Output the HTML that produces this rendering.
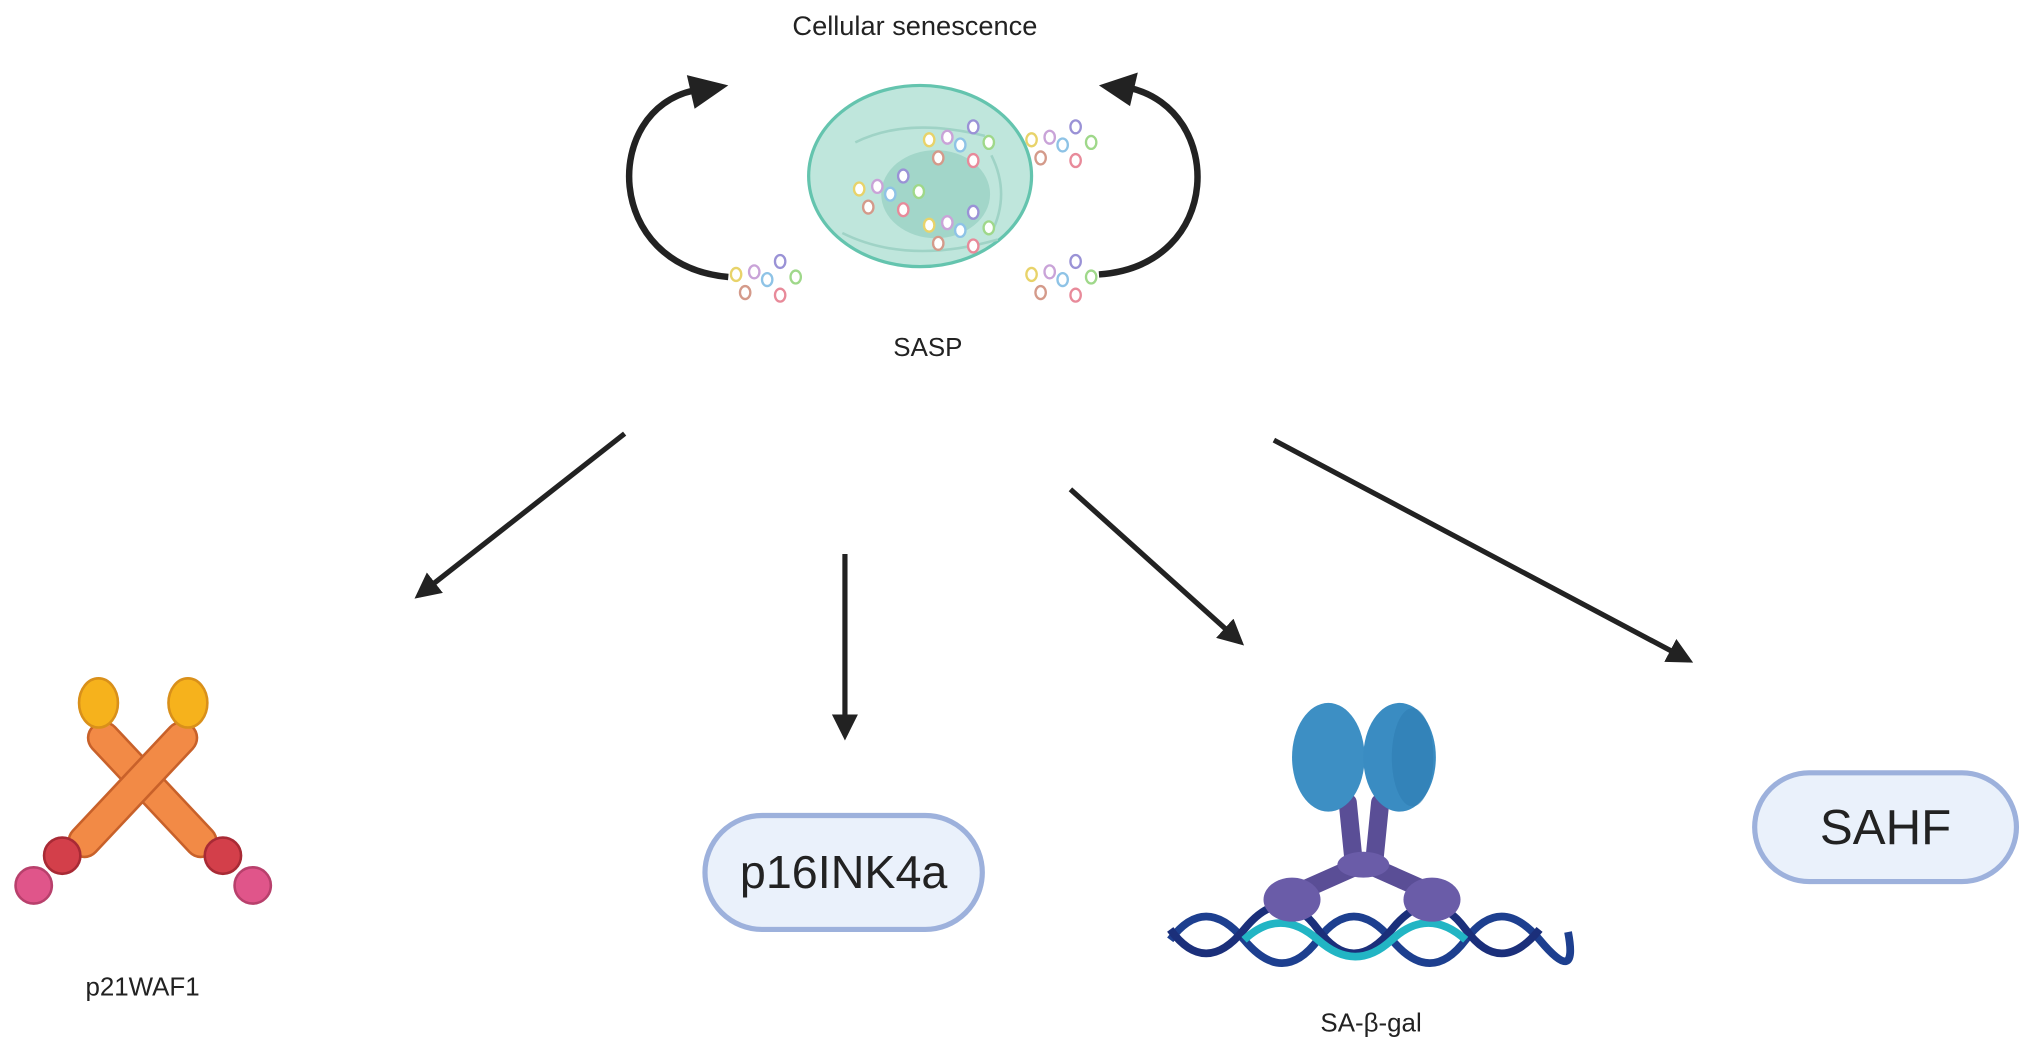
<!DOCTYPE html>
<html><head><meta charset="utf-8"><style>
html,body{margin:0;padding:0;background:#fff;}
svg{display:block;}
text{font-family:"Liberation Sans",Arial,sans-serif;fill:#222;}
</style></head><body>
<svg width="2032" height="1055" viewBox="0 0 1568 815" preserveAspectRatio="none" xmlns="http://www.w3.org/2000/svg">
<defs>
<marker id="ah" viewBox="0 0 10 10" refX="8" refY="5" markerWidth="5" markerHeight="5" orient="auto" markerUnits="strokeWidth">
<path d="M0,0 L10,5 L0,10 Z" fill="#222"/></marker>
<g id="v" fill="#fff" stroke-width="1.8"><ellipse cx="0" cy="0" rx="4" ry="5" stroke="#e8d36a"/><ellipse cx="14" cy="-2" rx="4" ry="5" stroke="#c9a3d8"/><ellipse cx="24" cy="4" rx="4" ry="5" stroke="#8ec3e6"/><ellipse cx="34" cy="-10" rx="4" ry="5" stroke="#9a92d6"/><ellipse cx="46" cy="2" rx="4" ry="5" stroke="#9fd88a"/><ellipse cx="7" cy="14" rx="4" ry="5" stroke="#d49a8a"/><ellipse cx="34" cy="16" rx="4" ry="5" stroke="#e88a9a"/></g>
</defs>
<text x="706" y="27" font-size="21" text-anchor="middle">Cellular senescence</text>
<text x="716" y="275" font-size="20" text-anchor="middle">SASP</text>

<ellipse cx="710" cy="136" rx="86" ry="70" fill="#bfe6dc" stroke="#64c4ae" stroke-width="2.5"/>
<ellipse cx="722" cy="150" rx="42" ry="34" fill="#a2d6c9"/>
<path d="M660,110 Q700,90 760,105 M650,180 Q700,205 770,185 M765,120 Q780,150 765,180" stroke="#9fd3c6" stroke-width="2" fill="none"/>

<path d="M562,214 C465,205 465,85 535,70" stroke="#222" stroke-width="5" fill="none"/>
<path d="M530,58 L562,66 L536,84 Z" fill="#222"/>
<path d="M848,212 C945,205 945,85 872,68" stroke="#222" stroke-width="5" fill="none"/>
<path d="M878,56 L848,66 L872,82 Z" fill="#222"/>

<use href="#v" x="568" y="212"/>
<use href="#v" x="796" y="212"/>
<use href="#v" x="796" y="108"/>
<use href="#v" x="717" y="108"/>
<use href="#v" x="663" y="146"/>
<use href="#v" x="717" y="174"/>

<g stroke="#222" stroke-width="4" fill="none" marker-end="url(#ah)">
<line x1="482" y1="335" x2="323" y2="460"/>
<line x1="652" y1="428" x2="652" y2="568"/>
<line x1="826" y1="378" x2="957" y2="496"/>
<line x1="983" y1="340" x2="1303" y2="510"/>
</g>

<g>
<line x1="80" y1="570" x2="155" y2="650" stroke="#c8612a" stroke-width="26" stroke-linecap="round"/>
<line x1="80" y1="570" x2="155" y2="650" stroke="#f28a46" stroke-width="22" stroke-linecap="round"/>
<line x1="140" y1="570" x2="65" y2="650" stroke="#c8612a" stroke-width="26" stroke-linecap="round"/>
<line x1="140" y1="570" x2="65" y2="650" stroke="#f28a46" stroke-width="22" stroke-linecap="round"/>
<ellipse cx="76" cy="543" rx="15" ry="19" fill="#f6b21c" stroke="#d9901a" stroke-width="2"/>
<ellipse cx="145" cy="543" rx="15" ry="19" fill="#f6b21c" stroke="#d9901a" stroke-width="2"/>
<circle cx="48" cy="661" r="14" fill="#d33f4a" stroke="#a82a35" stroke-width="2"/>
<circle cx="172" cy="661" r="14" fill="#d33f4a" stroke="#a82a35" stroke-width="2"/>
<circle cx="26" cy="684" r="14" fill="#e0558a" stroke="#b8406c" stroke-width="2"/>
<circle cx="195" cy="684" r="14" fill="#e0558a" stroke="#b8406c" stroke-width="2"/>
</g>
<text x="110" y="769" font-size="20" text-anchor="middle">p21WAF1</text>

<rect x="544" y="630" width="214" height="88" rx="44" fill="#eaf1fb" stroke="#9db1dc" stroke-width="4"/>
<text x="651" y="686" font-size="36" text-anchor="middle">p16INK4a</text>

<rect x="1354" y="597" width="202" height="84" rx="42" fill="#eaf1fb" stroke="#9db1dc" stroke-width="4"/>
<text x="1455" y="652" font-size="38" text-anchor="middle">SAHF</text>

<g>
<path d="M903,726 Q930,690 960,726 T1017,726 T1074,726 T1131,726 T1188,726 T1210,720" stroke="#1d3f8f" stroke-width="6" fill="none"/>
<path d="M903,718 Q930,755 960,718 T1017,718 T1074,718 T1131,718 T1188,718" stroke="#1b2f7a" stroke-width="6" fill="none"/>
<path d="M960,726 Q988,700 1017,726 T1074,726 T1131,726" stroke="#22b5c4" stroke-width="6" fill="none"/>
<path d="M1040,620 L1045,670 L1000,690 M1065,620 L1060,670 L1105,690" stroke="#5a4e96" stroke-width="14" fill="none" stroke-linecap="round"/>
<ellipse cx="997" cy="695" rx="22" ry="17" fill="#6a5ca8"/>
<ellipse cx="1105" cy="695" rx="22" ry="17" fill="#6a5ca8"/>
<ellipse cx="1052" cy="668" rx="20" ry="10" fill="#6a5ca8"/>
<ellipse cx="1025" cy="585" rx="28" ry="42" fill="#3d8fc4"/>
<ellipse cx="1080" cy="585" rx="28" ry="42" fill="#3a8cc2"/>
<ellipse cx="1090" cy="585" rx="16" ry="38" fill="#2b7ab0" opacity="0.5"/>
</g>
<text x="1058" y="797" font-size="20" text-anchor="middle">SA-β-gal</text>
</svg>
</body></html>
